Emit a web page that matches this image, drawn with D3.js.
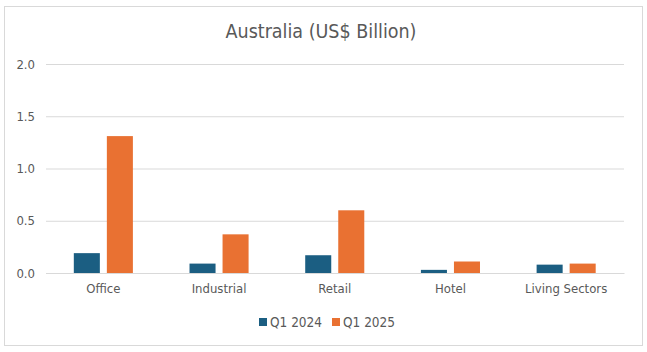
<!DOCTYPE html>
<html><head><meta charset="utf-8">
<script src="https://cdn.jsdelivr.net/npm/d3@7"></script>
<style>body{margin:0;background:#fff}svg{display:block}text{font-family:"DejaVu Sans Condensed","DejaVu Sans",sans-serif;fill:#595959}</style>
</head><body><svg id="c" width="647" height="352"></svg>
<script>
const categories=["Office","Industrial","Retail","Hotel","Living Sectors"];
const seriesNames=["Q1 2024","Q1 2025"];
const q12024=[0.19,0.09,0.17,0.03,0.08];
const q12025=[1.31,0.37,0.60,0.11,0.09];
const yTicks=[0,0.5,1.0,1.5,2.0];
const colors=["#1b5e82","#e97132"];
const svg=d3.select("#c");
svg.append("rect").attr("x",4.5).attr("y",6.5).attr("width",638).attr("height",339).attr("fill","#fff").attr("stroke","#d9d9d9");
const x=d3.scaleBand().domain(categories).range([45.5,624]);
const y=d3.scaleLinear().domain([0,2]).range([273,64]);
const xs=d3.scaleBand().domain(seriesNames).range([0,x.bandwidth()]).paddingInner(0.212).paddingOuter(0.857);
svg.append("text").attr("x",321).attr("y",38).attr("text-anchor","middle").attr("font-size",19.5).text("Australia (US$ Billion)");
const ya=svg.append("g").attr("transform","translate(46,0)").call(d3.axisLeft(y).tickValues(yTicks).tickFormat(d3.format(".1f")).tickSize(-578).tickPadding(11));
ya.select(".domain").remove();
ya.selectAll("line").attr("stroke","#d9d9d9");
ya.selectAll("text").attr("font-size",13).style("font-family","DejaVu Sans Condensed").attr("fill","#595959");
const data=[q12024,q12025];
data.forEach((vals,si)=>{
  svg.append("g").selectAll("rect").data(vals).join("rect")
   .attr("x",(d,i)=>x(categories[i])+xs(seriesNames[si]))
   .attr("y",d=>y(d)).attr("width",xs.bandwidth()).attr("height",d=>y(0)-y(d))
   .attr("fill",colors[si]);
});
const xa=svg.append("g").attr("transform","translate(0,273)").call(d3.axisBottom(x).tickSize(0).tickPadding(11));
xa.select(".domain").attr("stroke","#d9d9d9");
xa.selectAll("text").attr("font-size",13).style("font-family","DejaVu Sans Condensed").attr("fill","#595959");
const lg=svg.append("g");
const lx=[259,332];
seriesNames.forEach((n,i)=>{
  lg.append("rect").attr("x",lx[i]).attr("y",318).attr("width",8).attr("height",8).attr("fill",colors[i]);
  lg.append("text").attr("x",lx[i]+11).attr("y",327).attr("font-size",13.5).text(n);
});
</script></body></html>
